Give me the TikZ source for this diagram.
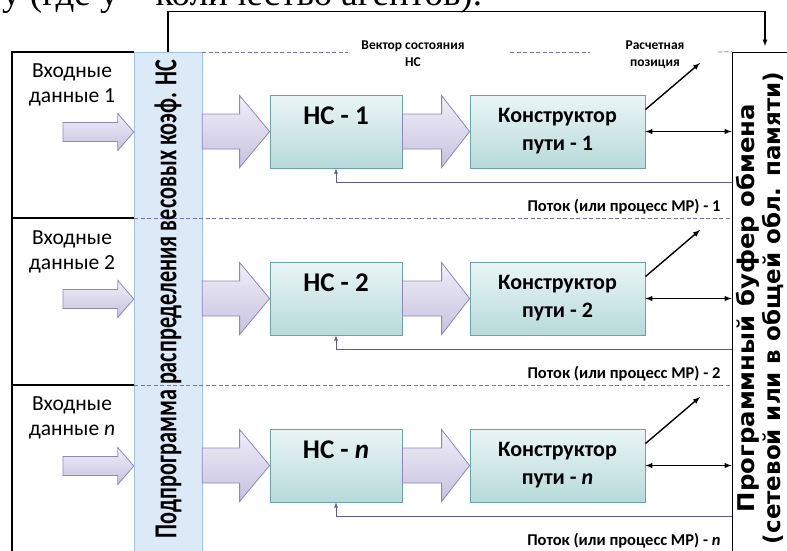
\documentclass[tikz,border=0pt]{standalone}
\usepackage{fontspec}
\setmainfont{Carlito}
\newfontfamily\buffont{DejaVu Sans}
\newfontfamily\notefont{Liberation Serif}
\usetikzlibrary{positioning}
\usetikzlibrary{calc}
\usetikzlibrary{arrows}

\definecolor{barfill}{HTML}{DCE9F6}
\definecolor{bardraw}{HTML}{9DC3E6}
\definecolor{nstop}{HTML}{EAF5F5}
\definecolor{nsbot}{HTML}{B7DADA}
\definecolor{nsdraw}{HTML}{6AA5A5}
\definecolor{arrtop}{HTML}{F0EFF8}
\definecolor{arrbot}{HTML}{C6C2DF}
\definecolor{arrdraw}{HTML}{8C87C0}
\definecolor{dashcol}{HTML}{7B6FC0}
\definecolor{fbcol}{HTML}{5B59A8}

% fat block arrow: from, to, head length, body half, head half
\newcommand{\fatarrow}[5]{%
  \draw[fat arrow] ($#1+(0,#4)$) -- ($#2+(-#3,#4)$) -- ($#2+(-#3,#5)$) -- #2
    -- ($#2+(-#3,-#5)$) -- ($#2+(-#3,-#4)$) -- ($#1+(0,-#4)$) -- cycle;}

\begin{document}
\begin{tikzpicture}[x=1pt, y=-1pt,
		ns style/.style={rectangle, draw=nsdraw, thick, top color=nstop, bottom color=nsbot,
			minimum width=132pt, minimum height=73pt, inner sep=0pt},
		cp style/.style={ns style, minimum width=175pt, align=center,
			font=\bfseries\fontsize{22}{28}\selectfont},
		ns text/.style={inner sep=0pt, font=\bfseries\fontsize{27}{30}\selectfont},
		bar style/.style={rectangle, draw=bardraw, fill=barfill, minimum width=68pt, minimum height=500pt},
		buf style/.style={rectangle, draw, thick, fill=white, minimum width=90pt, minimum height=520pt},
		in text/.style={align=center, font=\fontsize{21.5}{25}\selectfont},
		top text/.style={align=center, font=\bfseries\fontsize{13.5}{17}\selectfont},
		flow text/.style={anchor=east, font=\bfseries\fontsize{16.5}{18}\selectfont},
		fat arrow/.style={draw=arrdraw, thick, top color=arrtop, bottom color=arrbot},
		dashed edge/.style={dashcol, thick, dash pattern=on 4pt off 2.5pt},
		feedback edge/.style={fbcol, thick, -latex},
		edge/.style={black, line width=1.4pt}
		]
		\useasboundingbox (0,0) rectangle (787,550);
		\begin{scope}
			\clip (0,0) rectangle (787,550);
			\node[anchor=base west, inner sep=0pt, font=\notefont\fontsize{37}{40}\selectfont] (note) at (2,5) {у (где у – количество агентов).};
		\end{scope}

		% frame of the inputs
		\draw[edge, line width=1.2pt] (12,552) -- (12,52) -- (134,52);
		\draw[edge, line width=1.2pt] (12,218) -- (134,218);
		\draw[edge, line width=1.2pt] (12,385) -- (134,385);

		\node[bar style] (bar) at (168,302) {};
		\node[buf style] (buf) at (777,312) {};

		\draw[dashed edge] (202,52) -- (348,52);
		\draw[dashed edge] (510,52) -- (590,52);
		\draw[dashed edge] (718,52) -- (buf.north west);
		\draw[dashed edge] (134,218) -- (buf.west |- 0,218);
		\draw[dashed edge] (134,385) -- (buf.west |- 0,385);

		\node[rotate=90, inner sep=0pt, font=\bfseries\fontsize{32}{32}\selectfont] (bartxt) at (168,299)
			{\resizebox{478pt}{\height}{Подпрограмма распределения весовых коэф. НС}};
		\node[rotate=90, inner sep=0pt, align=center, font=\buffont\bfseries\fontsize{23}{25.5}\selectfont] (buftxt) at (760,308)
			{\resizebox{408pt}{\height}{Программный буфер обмена}\\\resizebox{472pt}{\height}{(сетевой или в общей обл. памяти)}};

		\coordinate (bufin) at (765,46);
		\draw[edge, line width=1.2pt, -latex] (bar.north) -- ++(0,-40) -| (bufin);

		\node[top text] (vec) at (413,54) {Вектор состояния\\НС};
		\node[top text] (calc) at (655,55) {Расчетная\\позиция};

		% row 1
		\node[in text] (in1) at (72,85) {Входные\\данные 1};
		\node[ns style] (ns1) at (336,131.5) {};
		\node[ns text, below=12pt of ns1.north] (ns1t) {НС - 1};
		\node[cp style] (cp1) at (557.5,131.5) {Конструктор\\пути - 1};
		\coordinate (in1s) at (63,132);
		\coordinate (bar1) at (bar.east |- ns1.west);
		\fatarrow{(in1s)}{(bar.west |- in1s)}{16}{9.5}{18.5}
		\fatarrow{(bar1)}{(ns1.west)}{30}{17.5}{36}
		\fatarrow{(ns1.east)}{(cp1.west)}{28}{17.5}{36}
		\coordinate (pos1) at (700,63);
		\draw[edge, -latex] (cp1.14) -- (pos1);
		\draw[edge, latex-latex] (cp1.east) -- (cp1.east -| buf.west);
		\coordinate (fb1) at (732,182);
		\draw[feedback edge] (fb1) -| (ns1.south);
		\node[flow text] (fl1) at (724,207) {Поток (или процесс МР) - 1};

		% row 2
		\node[in text] (in2) at (72,252) {Входные\\данные 2};
		\node[ns style] (ns2) at (336,298.5) {};
		\node[ns text, below=12pt of ns2.north] (ns2t) {НС - 2};
		\node[cp style] (cp2) at (557.5,298.5) {Конструктор\\пути - 2};
		\coordinate (in2s) at (63,299);
		\coordinate (bar2) at (bar.east |- ns2.west);
		\fatarrow{(in2s)}{(bar.west |- in2s)}{16}{9.5}{18.5}
		\fatarrow{(bar2)}{(ns2.west)}{30}{17.5}{36}
		\fatarrow{(ns2.east)}{(cp2.west)}{28}{17.5}{36}
		\coordinate (pos2) at (700,230);
		\draw[edge, -latex] (cp2.14) -- (pos2);
		\draw[edge, latex-latex] (cp2.east) -- (cp2.east -| buf.west);
		\coordinate (fb2) at (732,349);
		\draw[feedback edge] (fb2) -| (ns2.south);
		\node[flow text] (fl2) at (724,374) {Поток (или процесс МР) - 2};

		% row n
		\node[in text] (in3) at (72,418) {Входные\\данные \textit{n}};
		\node[ns style] (ns3) at (336,465.5) {};
		\node[ns text, below=12pt of ns3.north] (ns3t) {НС - \textit{n}};
		\node[cp style] (cp3) at (557.5,465.5) {Конструктор\\пути - \textit{n}};
		\coordinate (in3s) at (63,466);
		\coordinate (bar3) at (bar.east |- ns3.west);
		\fatarrow{(in3s)}{(bar.west |- in3s)}{16}{9.5}{18.5}
		\fatarrow{(bar3)}{(ns3.west)}{30}{17.5}{36}
		\fatarrow{(ns3.east)}{(cp3.west)}{28}{17.5}{36}
		\coordinate (pos3) at (700,397);
		\draw[edge, -latex] (cp3.14) -- (pos3);
		\draw[edge, latex-latex] (cp3.east) -- (cp3.east -| buf.west);
		\coordinate (fb3) at (732,516);
		\draw[feedback edge] (fb3) -| (ns3.south);
		\node[flow text] (fl3) at (724,541) {Поток (или процесс МР) - \textit{n}};
	\end{tikzpicture}
\end{document}
